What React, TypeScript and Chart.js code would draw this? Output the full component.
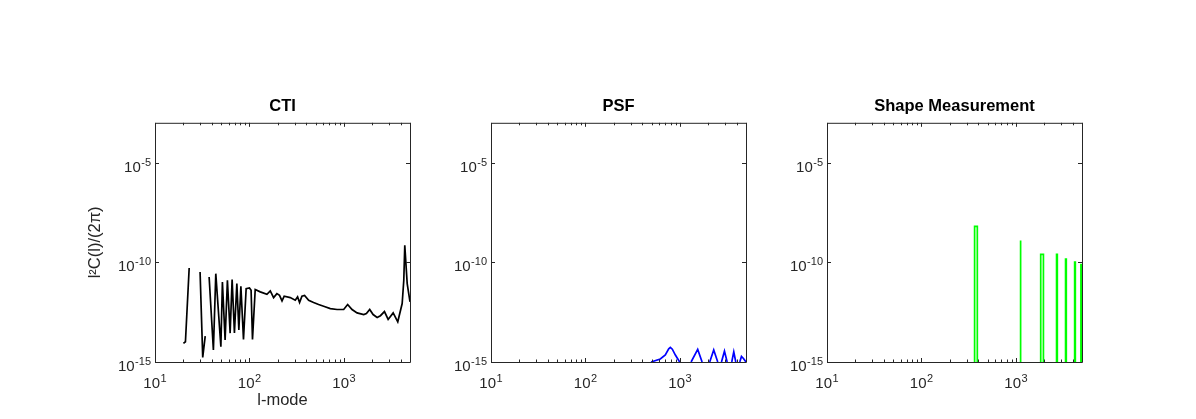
import React, { useEffect, useRef } from 'react';
import { Chart, registerables } from 'chart.js';

Chart.register(...registerables);

// ---- tick definitions ----
const xMajorTicks = [10, 100, 1000];
const xTickBase = '10';
const xTickExps = ['1', '2', '3'];
const xMinorTicks = [20, 30, 40, 50, 60, 70, 80, 90, 200, 300, 400, 500, 600, 700, 800, 900, 2000, 3000, 4000, 5000];
const yMajorTicks = [1e-15, 1e-10, 1e-5];
const yTickExps = ['-15', '-10', '-5'];
const panelTitles = ['CTI', 'PSF', 'Shape Measurement'];
const panelColors = ['#000000', '#0000ff', '#00ff00'];

// ---- CTI ----
const ctiL = [20, 21, 23, 26, 30, 32, 34, 36, 37.4, 41.5, 44, 49.8, 51.7, 55.2, 58.4, 62.4, 65.5, 69.3,
  73.5, 77.2, 81.1, 86.4, 92.2, 100, 104, 107.6, 115, 130, 153, 166, 180, 195, 208, 221, 233, 270, 305, 323,
  339, 359, 383, 423, 477, 539, 609, 717, 845, 993, 1094, 1218, 1376, 1618, 1728, 1873, 2035, 2244, 2432, 2682,
  2936, 3317, 3711, 4131, 4298, 4403, 4670, 5000];
const ctiC = [8.6e-15, 1.04e-14, 5.2e-11, null, 3.3e-11, 1.7e-15, 2.0e-14, null,
  1.84e-11, 4.0e-15, 2.7e-11, 5.8e-15, 1.04e-11, 1.26e-14, 1.26e-11, 2.8e-14, 1.36e-11, 2.9e-14,
  8.6e-12, 4.0e-14, 6.3e-12, 1.36e-14, 4.8e-12, 5.2e-12, 4.0e-12, 1.36e-14, 4.3e-12, 3.3e-12,
  2.5e-12, 3.7e-12, 1.7e-12, 2.7e-12, 2.2e-12, 1.16e-12, 2.0e-12, 1.7e-12, 1.26e-12, 1.84e-12,
  9.7e-13, 2.0e-12, 2.2e-12, 1.26e-12, 9.7e-13, 7.7e-13, 6.3e-13, 4.8e-13, 4.3e-13, 4.3e-13,
  7.7e-13, 4.3e-13, 2.9e-13, 2.4e-13, 2.7e-13, 4.3e-13, 2.4e-13, 1.7e-13, 2.1e-13, 3.4e-13,
  1.36e-13, 2.9e-13, 1.04e-13, 8.6e-13, 1.26e-11, 7.1e-10, 8.6e-12, 1.04e-12];

// ---- PSF ----
const psfL = [494, 619, 700, 760, 791, 830, 894, 993, 1100, 1312, 1541, 1716, 1900, 2065, 2277, 2512, 2600,
  2750, 2958, 3159, 3300, 3534, 3711, 3899, 4100, 4295, 4477, 4700, 5000];
const psfC = [1e-15, 1.41e-15, 2.24e-15, 4.6e-15, 5.4e-15, 4.4e-15, 2.24e-15, 1e-15, null, 1e-15, 4.3e-15, 1e-15, null,
  1e-15, 4.0e-15, 1e-15, null, 1e-15, 3.5e-15, 1e-15, null, 1e-15, 3.2e-15, 1e-15, null,
  1e-15, 1.9e-15, 1.5e-15, 1e-15];

// ---- Shape Measurement ----
const shapeL = [365, 365, 390, 390, 700, 1110, 1110, 1125, 1125, 1500, 1828, 1828, 1953, 1953, 2300,
  2690, 2690, 2740, 2740, 3000, 3350, 3350, 3410, 3410, 3800, 4180, 4180, 4250, 4250, 4600,
  4870, 4870, 4960, 4960];
const shapeC = [1e-16, 6.3e-9, 6.3e-9, 1e-16, null, 1e-16, 1.26e-9, 1.26e-9, 1e-16, null,
  1e-16, 2.5e-10, 2.5e-10, 1e-16, null, 1e-16, 2.5e-10, 2.5e-10, 1e-16, null,
  1e-16, 1.46e-10, 1.46e-10, 1e-16, null, 1e-16, 1.04e-10, 1.04e-10, 1e-16, null,
  1e-16, 7.7e-11, 7.7e-11, 1e-16];

const seriesL = [ctiL, psfL, shapeL];
const seriesC = [ctiC, psfC, shapeC];

const FONT = "'Liberation Sans', Arial, Helvetica, sans-serif";
const AXIS_COLOR = '#262626';
const TICK_FONT = 15;
const EXP_FONT = 11;

const plotLefts = [155, 491, 827];
const plotWidth = 255;
const yAxisW = 100;
const padRight = 15;
const canvasTop = 80;
const canvasH = 419 - canvasTop;

function drawPow(ctx: any, base: string, exp: string, x: number, baseline: number, align: 'center' | 'right') {
  ctx.font = `${TICK_FONT}px ${FONT}`;
  const w1 = ctx.measureText(base).width;
  ctx.font = `${EXP_FONT}px ${FONT}`;
  const w2 = ctx.measureText(exp).width;
  const total = w1 + w2 + 0.5;
  const start = align === 'center' ? x - total / 2 : x - total;
  ctx.textAlign = 'left';
  ctx.textBaseline = 'alphabetic';
  ctx.font = `${TICK_FONT}px ${FONT}`;
  ctx.fillText(base, start, baseline);
  ctx.font = `${EXP_FONT}px ${FONT}`;
  ctx.fillText(exp, start + w1 + 0.5, baseline - 6);
}

const framePlugin = {
  id: 'matlabFrame',
  afterDraw(chart: any) {
    const { ctx, chartArea: a, scales } = chart;
    const xs = scales.x;
    const ys = scales.y;
    ctx.save();
    ctx.strokeStyle = AXIS_COLOR;
    ctx.lineWidth = 1;
    ctx.beginPath();
    const allX = [...xMajorTicks.map((v) => [v, 4]), ...xMinorTicks.map((v) => [v, 2.5])];
    for (const [v, len] of allX) {
      const px = Math.round(xs.getPixelForValue(v)) + 0.5;
      ctx.moveTo(px, a.bottom);
      ctx.lineTo(px, a.bottom - len);
      ctx.moveTo(px, a.top);
      ctx.lineTo(px, a.top + len);
    }
    for (const v of yMajorTicks) {
      const py = Math.round(ys.getPixelForValue(v)) + 0.5;
      ctx.moveTo(a.left, py);
      ctx.lineTo(a.left + 4, py);
      ctx.moveTo(a.right, py);
      ctx.lineTo(a.right - 4, py);
    }
    ctx.stroke();
    ctx.beginPath();
    ctx.rect(a.left + 0.5, a.top + 0.5, a.right - a.left, a.bottom - a.top);
    ctx.stroke();

    // tick labels (10 with superscript exponent)
    ctx.fillStyle = AXIS_COLOR;
    xMajorTicks.forEach((v, i) => {
      const px = xs.getPixelForValue(v);
      drawPow(ctx, xTickBase, xTickExps[i], px, a.bottom + 26, 'center');
    });
    yMajorTicks.forEach((v, i) => {
      const py = ys.getPixelForValue(v);
      drawPow(ctx, xTickBase, yTickExps[i], a.left - 4, py + 9, 'right');
    });
    ctx.restore();
  },
};

function Panel({ idx }: { idx: number }) {
  const ref = useRef<HTMLCanvasElement | null>(null);
  useEffect(() => {
    if (!ref.current) return;
    const L = seriesL[idx];
    const C = seriesC[idx];
    const data = L.map((l, i) => ({ x: l, y: C[i] }));
    const chart = new Chart(ref.current, {
      type: 'line',
      data: {
        datasets: [
          {
            data: data as any,
            borderColor: panelColors[idx],
            borderWidth: 1.7,
            pointRadius: 0,
            tension: 0,
            fill: false,
            spanGaps: false,
          },
        ],
      },
      plugins: [framePlugin],
      options: {
        responsive: false,
        animation: false,
        events: [],
        devicePixelRatio: 1,
        layout: { padding: { left: 0, right: padRight, top: 0, bottom: 0 } },
        plugins: {
          legend: { display: false },
          tooltip: { enabled: false },
          title: {
            display: true,
            fullSize: false,
            text: panelTitles[idx],
            color: '#000000',
            font: { family: FONT, size: 16.5, weight: 'bold', lineHeight: 1.2 },
            padding: { top: 17, bottom: 6 },
          },
        },
        scales: {
          x: {
            type: 'logarithmic',
            position: 'bottom',
            min: 10,
            max: 5000,
            grid: { display: false, drawTicks: false },
            border: { display: false },
            afterBuildTicks: (scale: any) => {
              scale.ticks = [...xMajorTicks, ...xMinorTicks]
                .sort((a, b) => a - b)
                .map((v) => ({ value: v }));
            },
            afterFit: (scale: any) => {
              scale.height = 419 - 362;
            },
            ticks: { display: false, autoSkip: false },
            title: {
              display: idx === 0,
              text: 'l-mode',
              color: AXIS_COLOR,
              font: { family: FONT, size: 16.5, lineHeight: 1.2 },
              padding: { top: 0, bottom: 9 },
            },
          },
          y: {
            type: 'logarithmic',
            position: 'left',
            min: 1e-15,
            max: 1e-3,
            grid: { display: false, drawTicks: false },
            border: { display: false },
            afterBuildTicks: (scale: any) => {
              scale.ticks = yMajorTicks.map((v) => ({ value: v }));
            },
            afterFit: (scale: any) => {
              scale.width = yAxisW;
            },
            ticks: { display: false, autoSkip: false },
            title: {
              display: idx === 0,
              text: 'l²C(l)/(2π)',
              color: AXIS_COLOR,
              font: { family: FONT, size: 16.5, lineHeight: 1.2 },
              padding: { top: 31, bottom: 0 },
            },
          },
        },
      } as any,
    });
    return () => chart.destroy();
  }, [idx]);

  const left = plotLefts[idx] - yAxisW;
  const width = yAxisW + plotWidth + padRight;
  return (
    <canvas
      ref={ref}
      width={width}
      height={canvasH}
      style={{ position: 'absolute', left, top: canvasTop, width, height: canvasH }}
    />
  );
}

export default function App() {
  return (
    <div style={{ position: 'absolute', left: 0, top: 0, width: 1196, height: 419, background: '#ffffff', overflow: 'hidden' }}>
      {[0, 1, 2].map((i) => (
        <Panel key={i} idx={i} />
      ))}
    </div>
  );
}
